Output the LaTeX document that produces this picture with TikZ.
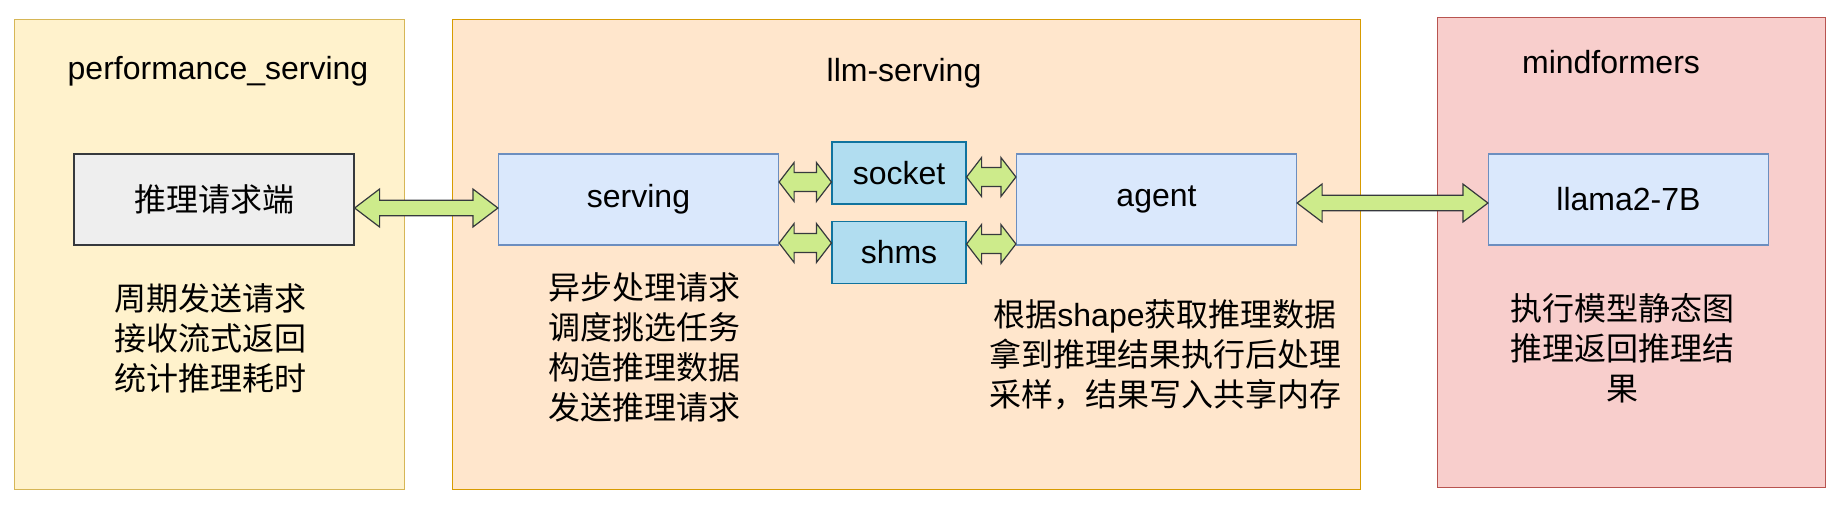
\documentclass[tikz,border=0pt]{standalone}
\usepackage{fontspec}
\setmainfont{Liberation Sans}
\newfontfamily\cjk{Noto Sans CJK SC}
\usepackage{xcolor}
\usetikzlibrary{positioning, calc}

\definecolor{perffill}{HTML}{FFF2CC}
\definecolor{perfline}{HTML}{D6B656}
\definecolor{llmfill}{HTML}{FFE6CC}
\definecolor{llmline}{HTML}{D79B00}
\definecolor{mindfill}{HTML}{F8CECC}
\definecolor{mindline}{HTML}{B85450}
\definecolor{greyfill}{HTML}{EEEEEE}
\definecolor{darkline}{HTML}{36393D}
\definecolor{bluefill}{HTML}{DAE8FC}
\definecolor{blueline}{HTML}{6C8EBF}
\definecolor{ipcfill}{HTML}{B1DDF0}
\definecolor{ipcline}{HTML}{10739E}
\definecolor{arrowfill}{HTML}{CDEB8B}

% fat double arrow between two nodes at a given height:
% from, to, y, head length, head half width, shaft half width
\newcommand{\fatarrow}[6]{%
  \filldraw[fatarrow] let \p1=(#1.east |- 0,#3), \p2=(#2.west |- 0,#3) in
    (\x1,\y1) -- (\x1+#4,\y1+#5) -- (\x1+#4,\y1+#6) -- (\x2-#4,\y1+#6)
    -- (\x2-#4,\y1+#5) -- (\x2,\y1) -- (\x2-#4,\y1-#5) -- (\x2-#4,\y1-#6)
    -- (\x1+#4,\y1-#6) -- (\x1+#4,\y1-#5) -- cycle;}

\begin{document}
\begin{tikzpicture}[x=0.5pt, y=-0.5pt, font=\fontsize{16}{20}\selectfont]
    \tikzstyle{group} = [draw, line width=0.6pt, inner sep=0, anchor=north west]
    \tikzstyle{block} = [draw, line width=0.6pt, inner sep=0, minimum width=140pt, minimum height=45.5pt]
    \tikzstyle{ipc} = [draw, line width=0.6pt, inner sep=0, fill=ipcfill, draw=ipcline, minimum width=67pt, minimum height=31pt]
    \tikzstyle{note} = [align=center, inner sep=0, font=\fontsize{16}{20}\selectfont\cjk]
    \tikzstyle{fatarrow} = [fill=arrowfill, draw=darkline, line width=0.6pt, line join=miter]
    \useasboundingbox (0,0) rectangle (1841,505);

    % containers
    \node [group, fill=perffill, draw=perfline, minimum width=195pt, minimum height=235pt] at (14,19) (perf) {};
    \node [group, fill=llmfill, draw=llmline, minimum width=454pt, minimum height=235pt] at (452,19) (llm) {};
    \node [group, fill=mindfill, draw=mindline, minimum width=194pt, minimum height=235pt] at (1437,17) (mind) {};
    \node at (218,71) (perftitle) {performance\_serving};
    \node at (904,73) (llmtitle) {llm-serving};
    \node at (1611,62) (mindtitle) {mindformers};

    % boxes
    \node [block, fill=greyfill, draw=darkline, font=\fontsize{16}{20}\selectfont\cjk] at (214,199.5) (req) {推理请求端};
    \node [block, fill=bluefill, draw=blueline] at (638.5,199.5) (serving) {serving};
    \node [ipc] at (899,173) (socket) {socket};
    \node [ipc, below=8pt of socket] (shms) {shms};
    \node [block, fill=bluefill, draw=blueline] at (1156.5,199.5) (agent) {agent};
    \node [block, fill=bluefill, draw=blueline] at (1628.5,199.5) (llama) {llama2-7B};

    % notes
    \node [note] at (210,338) (reqnote) {周期发送请求\\接收流式返回\\统计推理耗时};
    \node [note, align=left] at (644,347.5) (servingnote) {异步处理请求\\调度挑选任务\\构造推理数据\\发送推理请求};
    \node [note] at (1165,355) (agentnote) {根据{\rmfamily shape}获取推理数据\\拿到推理结果执行后处理\\采样，结果写入共享内存};
    \node [note] at (1622,348) (llamanote) {执行模型静态图\\推理返回推理结\\果};

    % arrows
    \fatarrow{req}{serving}{208}{12.5pt}{9.5pt}{3.9pt}
    \fatarrow{agent}{llama}{203}{12.5pt}{9.5pt}{3.9pt}
    \fatarrow{serving}{socket}{182}{7.5pt}{9.75pt}{4.75pt}
    \fatarrow{socket}{agent}{177}{7.5pt}{9.75pt}{4.75pt}
    \fatarrow{serving}{shms}{243}{7.5pt}{9.75pt}{4.75pt}
    \fatarrow{shms}{agent}{244}{7.5pt}{9.75pt}{4.75pt}
\end{tikzpicture}
\end{document}
